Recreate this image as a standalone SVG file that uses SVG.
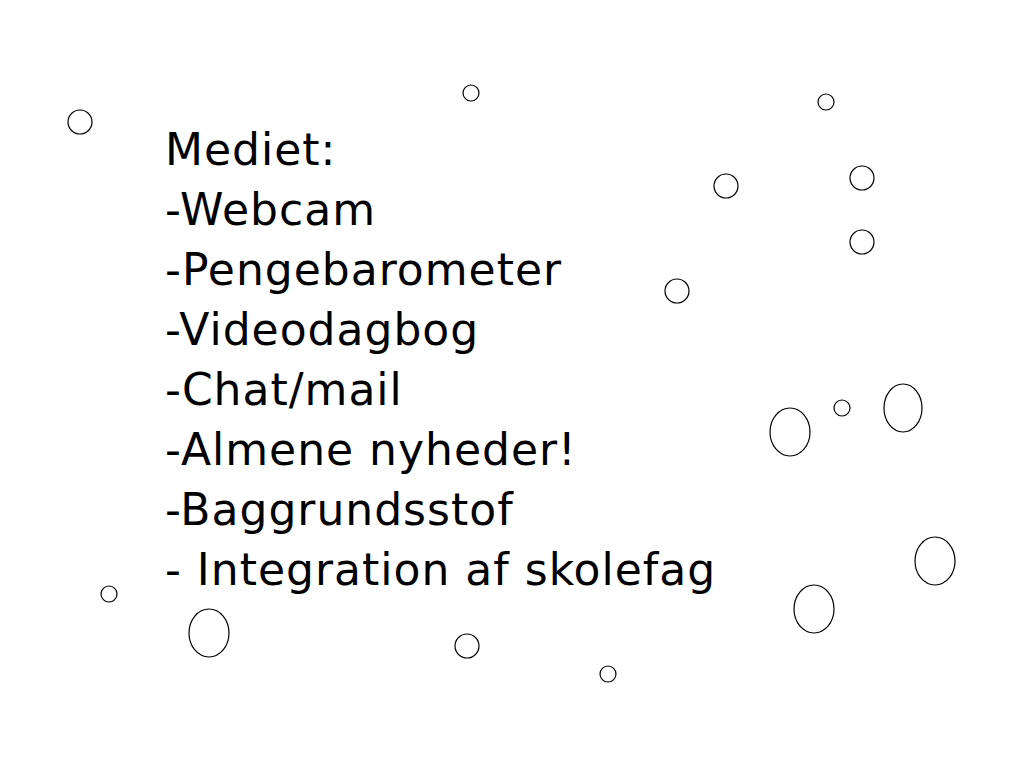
<svg xmlns="http://www.w3.org/2000/svg" width="1024" height="768" viewBox="0 0 1024 768">
<style>
.t{font-family:"DejaVu Sans",Verdana,sans-serif;font-size:44px;letter-spacing:1px;fill:#000}
.c{fill:none;stroke:#000;stroke-width:1.2}
</style>
<rect width="1024" height="768" fill="#fff"/>
<g id="text">
<text class="t" x="165" y="165">Mediet:</text>
<text class="t" x="165" y="225">-Webcam</text>
<text class="t" x="165" y="285">-Pengebarometer</text>
<text class="t" x="165" y="345">-Videodagbog</text>
<text class="t" x="165" y="405">-Chat/mail</text>
<text class="t" x="165" y="465">-Almene nyheder!</text>
<text class="t" x="165" y="525">-Baggrundsstof</text>
<text class="t" x="165" y="585">- Integration af skolefag</text>
</g>
<g id="bubbles">
<circle class="c" cx="80" cy="122" r="12"/>
<circle class="c" cx="471" cy="93" r="8"/>
<circle class="c" cx="826" cy="102" r="8"/>
<circle class="c" cx="726" cy="186" r="12"/>
<circle class="c" cx="862" cy="178" r="12"/>
<circle class="c" cx="862" cy="242" r="12"/>
<circle class="c" cx="677" cy="291" r="12"/>
<ellipse class="c" cx="790" cy="432" rx="20" ry="24"/>
<circle class="c" cx="842" cy="408" r="8"/>
<ellipse class="c" cx="903" cy="408" rx="19" ry="24"/>
<ellipse class="c" cx="935" cy="561" rx="20" ry="24"/>
<ellipse class="c" cx="814" cy="609" rx="20" ry="24"/>
<ellipse class="c" cx="209" cy="633" rx="20" ry="24"/>
<circle class="c" cx="109" cy="594" r="8"/>
<circle class="c" cx="467" cy="646" r="12"/>
<circle class="c" cx="608" cy="674" r="8"/>
</g>
</svg>
